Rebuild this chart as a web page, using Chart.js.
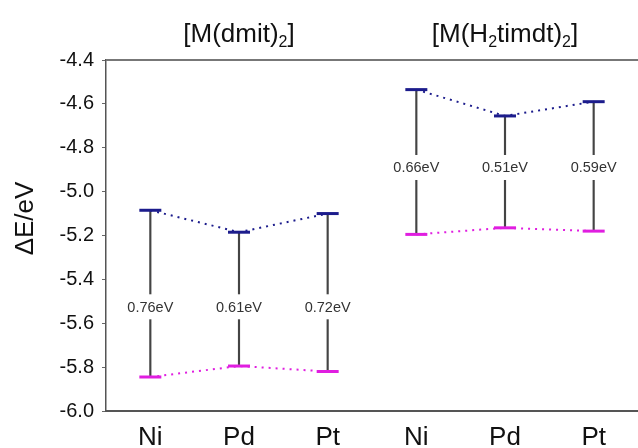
<!DOCTYPE html>
<html>
<head>
<meta charset="utf-8">
<script src="https://cdn.jsdelivr.net/npm/chart.js@4/dist/chart.umd.min.js"></script>
<style>
  html, body { margin: 0; padding: 0; background: #fff; overflow: hidden; }
  #wrap { width: 638px; height: 448px; position: relative; overflow: hidden; }
  #wrap canvas { display: block; }
</style>
</head>
<body>
<div id="wrap"><canvas id="chart"></canvas></div>
<script>
// Данные: уровни энергии (эВ)
const metals = ['Ni', 'Pd', 'Pt', 'Ni', 'Pd', 'Pt'];
const groupOf = [0, 0, 0, 1, 1, 1];
const upperLevels = [-5.085, -5.185, -5.10, -4.535, -4.655, -4.59];
const lowerLevels = [-5.845, -5.795, -5.82, -5.195, -5.165, -5.18];
const gapLabels = ['0.76eV', '0.61eV', '0.72eV', '0.66eV', '0.51eV', '0.59eV'];
const gapLabelLevels = [-5.525, -5.525, -5.525, -4.89, -4.89, -4.89];
const yTicks = [-6.0, -5.8, -5.6, -5.4, -5.2, -5.0, -4.8, -4.6, -4.4];
// заголовки групп: [текст, тип] — n обычный, s индекс
const groupTitles = [
  [['[M(dmit)', 'n'], ['2', 's'], [']', 'n']],
  [['[M(H', 'n'], ['2', 's'], ['timdt)', 'n'], ['2', 's'], [']', 'n']]
];
const groupCenterIdx = [1, 4];

const BLUE = '#1c1c8c';
const MAGENTA = '#e01ee0';
const FONT = '"Liberation Sans", Arial, sans-serif';

function onlyGroup(arr, g) {
  return arr.map((v, i) => groupOf[i] === g ? v : null);
}

function levelSet(values, g, color) {
  return {
    type: 'line',
    data: onlyGroup(values, g),
    borderColor: color,
    borderWidth: 2,
    borderDash: [2, 5],
    pointStyle: 'line',
    pointRadius: 11,
    pointHoverRadius: 11,
    pointBorderWidth: 3,
    pointBorderColor: color,
    pointBackgroundColor: color,
    spanGaps: false,
    tension: 0,
    order: 1
  };
}

// Подписи, заголовки и рамка
const decorPlugin = {
  id: 'decor',
  afterDatasetsDraw(chart) {
    const ctx = chart.ctx;
    const xs = chart.scales.x;
    const ys = chart.scales.y;
    const area = chart.chartArea;

    // подписи зазоров с белой подложкой
    ctx.save();
    ctx.font = '14.5px ' + FONT;
    ctx.textAlign = 'center';
    ctx.textBaseline = 'middle';
    gapLabels.forEach((txt, i) => {
      const x = xs.getPixelForValue(i);
      const y = ys.getPixelForValue(gapLabelLevels[i]);
      const w = ctx.measureText(txt).width;
      ctx.fillStyle = '#fff';
      ctx.fillRect(x - w / 2 - 2, y - 12.5, w + 4, 25);
      ctx.fillStyle = '#333';
      ctx.fillText(txt, x, y + 1);
    });
    ctx.restore();

    // верхняя граница
    ctx.save();
    ctx.strokeStyle = '#777';
    ctx.lineWidth = 2;
    ctx.beginPath();
    ctx.moveTo(area.left, area.top);
    ctx.lineTo(chart.width, area.top);
    ctx.stroke();
    ctx.restore();

    // подписи металлов под осью X
    ctx.save();
    ctx.font = '26px ' + FONT;
    ctx.fillStyle = '#111';
    ctx.textAlign = 'center';
    ctx.textBaseline = 'alphabetic';
    metals.forEach((m, i) => {
      ctx.fillText(m, xs.getPixelForValue(i), area.bottom + 34);
    });
    ctx.restore();

    // заголовки групп
    ctx.save();
    ctx.fillStyle = '#111';
    ctx.textBaseline = 'alphabetic';
    const fontN = '26px ' + FONT;
    const fontS = '16px ' + FONT;
    groupTitles.forEach((parts, g) => {
      let total = 0;
      parts.forEach(([t, k]) => {
        ctx.font = k === 's' ? fontS : fontN;
        total += ctx.measureText(t).width;
      });
      let x = xs.getPixelForValue(groupCenterIdx[g]) - total / 2;
      const base = 42;
      parts.forEach(([t, k]) => {
        ctx.font = k === 's' ? fontS : fontN;
        ctx.textAlign = 'left';
        ctx.fillText(t, x, k === 's' ? base + 5 : base);
        x += ctx.measureText(t).width;
      });
    });
    ctx.restore();

    // подпись оси Y
    ctx.save();
    ctx.translate(26, (area.top + area.bottom) / 2 - 17);
    ctx.rotate(-Math.PI / 2);
    ctx.font = '26px ' + FONT;
    ctx.fillStyle = '#111';
    ctx.textAlign = 'center';
    ctx.textBaseline = 'middle';
    ctx.fillText('\u0394E/eV', 0, 0);
    ctx.restore();
  }
};

const ctx = document.getElementById('chart').getContext('2d');
new Chart(ctx, {
  type: 'bar',
  data: {
    labels: metals,
    datasets: [
      {
        type: 'bar',
        data: metals.map((_, i) => [lowerLevels[i], upperLevels[i]]),
        backgroundColor: '#444',
        barThickness: 1.5,
        order: 3
      },
      levelSet(upperLevels, 0, BLUE),
      levelSet(upperLevels, 1, BLUE),
      levelSet(lowerLevels, 0, MAGENTA),
      levelSet(lowerLevels, 1, MAGENTA)
    ]
  },
  options: {
    responsive: true,
    maintainAspectRatio: false,
    animation: false,
    layout: { autoPadding: false, padding: { top: 60, left: 0, right: 0, bottom: 0 } },
    plugins: {
      legend: { display: false },
      tooltip: { enabled: false }
    },
    scales: {
      x: {
        offset: true,
        grid: { display: false },
        border: { display: true, color: '#555', width: 2 },
        ticks: { display: false },
        afterFit: s => { s.height = 37; }
      },
      y: {
        min: -6.0,
        max: -4.4,
        afterBuildTicks: s => { s.ticks = yTicks.map(v => ({ value: v })); },
        grid: { display: true, drawOnChartArea: false, tickLength: 4, color: '#666' },
        border: { display: true, color: '#555', width: 1.5 },
        ticks: {
          color: '#111',
          padding: 8,
          font: { size: 20, family: FONT },
          callback: v => v.toFixed(1)
        },
        afterFit: s => { s.width = 106; }
      }
    }
  },
  plugins: [decorPlugin]
});
</script>
</body>
</html>
